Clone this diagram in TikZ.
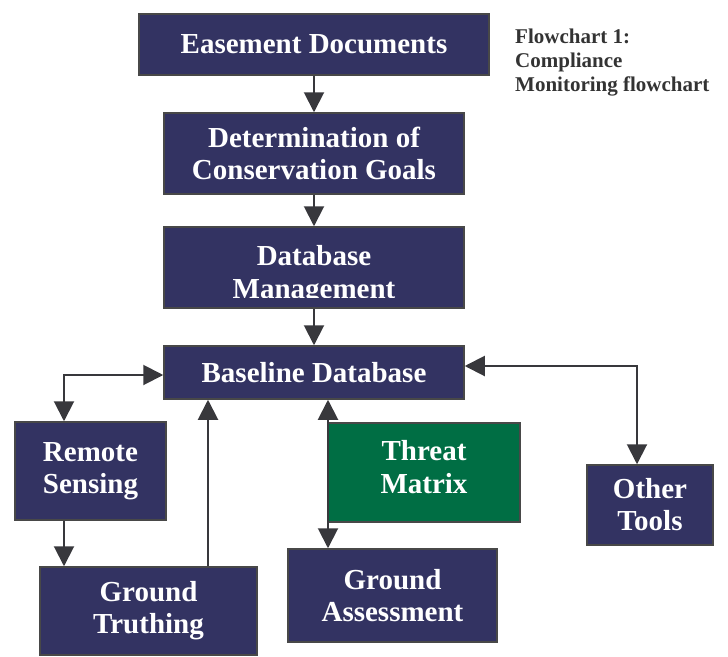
\documentclass[tikz,border=0pt]{standalone}
\usepackage{fontspec}
\setmainfont{Liberation Serif}
\usetikzlibrary{arrows.meta}
\definecolor{navy}{RGB}{51,51,98}
\definecolor{tgreen}{RGB}{0,110,68}
\definecolor{edgec}{RGB}{72,72,72}
\definecolor{arr}{RGB}{56,56,60}
\definecolor{captxt}{RGB}{51,51,51}
\begin{document}
\begin{tikzpicture}[x=1pt,y=-1pt,
  box/.style={draw=edgec, line width=1.5pt, fill=navy, text=white,
    font=\fontsize{29}{32}\selectfont\bfseries, align=center, inner sep=0pt},
  boxtext/.style={text=white, font=\fontsize{29}{33}\selectfont\bfseries, align=center, inner sep=0pt},
  greenbox/.style={box, fill=tgreen},
  conn/.style={draw=arr, line width=2pt, -{Triangle[length=20pt,width=20pt]}},
  both/.style={draw=arr, line width=2pt, {Triangle[length=20pt,width=20pt]}-{Triangle[length=20pt,width=20pt]}}]
\useasboundingbox (0,0) rectangle (728,656);

\node[box, minimum width=350pt, minimum height=61pt] (ease) at (314,44.5) {Easement Documents};
\node[box, minimum width=300pt, minimum height=81pt] (det) at (314,153.5) {Determination of\\Conservation Goals};
\node[box, minimum width=300pt, minimum height=81pt] (dbm) at (314,267.5) {};
\begin{scope}
  \clip (164,227) rectangle (464,297.5);
  \node[boxtext] (dbmtext) at (314,275) {Database\\Management};
\end{scope}
\node[box, minimum width=300pt, minimum height=53pt] (base) at (314,372.5) {Baseline Database};
\node[box, minimum width=151pt, minimum height=98pt] (rs) at (90.5,471) {Remote\\Sensing};
\node[box, minimum width=217pt, minimum height=88pt] (gt) at (148.5,611) {Ground\\Truthing};
\node[greenbox, minimum width=192pt, minimum height=99pt] (tm) at (424,472.5) {};
\node[boxtext] (tmtext) at (424,467) {Threat\\Matrix};
\node[box, minimum width=209pt, minimum height=93pt] (ga) at (392.5,595.5) {Ground\\Assessment};
\node[box, minimum width=126pt, minimum height=80pt] (ot) at (650,505) {Other\\Tools};

\node[anchor=north west, inner sep=0pt, align=left, text=captxt,
  font=\fontsize{21}{24}\selectfont\bfseries] (cap) at (515,28.5)
  {Flowchart 1:\\Compliance\\Monitoring flowchart};

\draw[conn] (ease.south) -- (det.north);
\draw[conn] (det.south) -- (dbm.north);
\draw[conn] (dbm.south) -- (base.north);

\coordinate (lc) at (64,375);
\draw[both] (base.west |- lc) -- (lc) -- (rs.north -| lc);
\draw[conn] (rs.south -| lc) -- (gt.north -| lc);

\coordinate (gx) at (208,0);
\draw[conn] (gt.north -| gx) -- (base.south -| gx);

\coordinate (tx) at (328,0);
\draw[both] (base.south -| tx) -- (ga.north -| tx);

\coordinate (rc) at (637,366);
\draw[both] (base.east |- rc) -- (rc) -- (ot.north -| rc);
\end{tikzpicture}
\end{document}
